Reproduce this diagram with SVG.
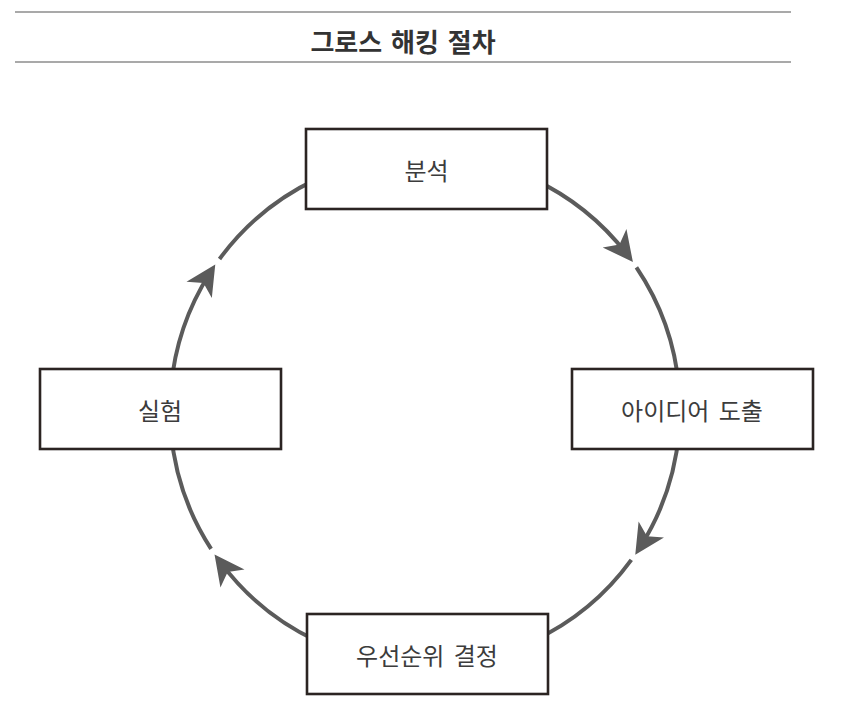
<svg xmlns="http://www.w3.org/2000/svg" width="848" height="720" viewBox="0 0 848 720">
  <defs>
    <style>
      .rule { stroke: #8c8c8c; stroke-width: 1.6; fill: none; }
      .title { font-family: "Noto Sans CJK KR", "Noto Sans", sans-serif; font-size: 26px; font-weight: 700; fill: #333333; word-spacing: 3px; }
      .box { fill: #ffffff; stroke: #2b2422; stroke-width: 2.6; }
      .label { font-family: "Noto Sans CJK KR", "Noto Sans", sans-serif; font-size: 24px; fill: #3c3c3c; word-spacing: 4px; }
      .arc { fill: none; stroke: #5b5b5b; stroke-width: 4; }
    </style>
    <marker id="ah" viewBox="-22 -16 34 32" refX="0" refY="0" markerWidth="34" markerHeight="32" markerUnits="userSpaceOnUse" orient="auto">
      <path d="M10,0 L-20,-15 L-12,0 L-20,15 Z" fill="#5b5b5b"/>
    </marker>
  </defs>
  <rect width="848" height="720" fill="#ffffff"/>

  <g id="header">
    <line class="rule" x1="15" y1="12" x2="791" y2="12"/>
    <line class="rule" x1="15" y1="62" x2="791" y2="62"/>
    <text class="title" x="403" y="40" text-anchor="middle" dominant-baseline="central">그로스 해킹 절차</text>
  </g>

  <g id="connectors">
    <path class="arc" d="M532.8,178.9 A255,255 0 0 1 626.8,254.1" marker-end="url(#ah)"/>
    <path class="arc" d="M636.4,267.4 A255,255 0 0 1 679.0,387.8"/>
    <path class="arc" d="M679.0,432.2 A255,255 0 0 1 640.6,546.3" marker-end="url(#ah)"/>
    <path class="arc" d="M631.3,559.9 A255,255 0 0 1 532.8,641.1"/>
    <path class="arc" d="M317.2,641.1 A255,255 0 0 1 220.5,562.4" marker-end="url(#ah)"/>
    <path class="arc" d="M211.1,548.9 A255,255 0 0 1 171.0,432.2"/>
    <path class="arc" d="M171.0,387.8 A255,255 0 0 1 209.9,273.0" marker-end="url(#ah)"/>
    <path class="arc" d="M219.5,259.0 A255,255 0 0 1 317.2,178.9"/>
  </g>

  <g id="node-analysis">
    <rect class="box" x="306" y="129" width="241" height="80"/>
    <text class="label" x="426.5" y="169" text-anchor="middle" dominant-baseline="central">분석</text>
  </g>
  <g id="node-ideation">
    <rect class="box" x="572" y="369" width="241" height="80"/>
    <text class="label" x="692" y="409" text-anchor="middle" dominant-baseline="central">아이디어 도출</text>
  </g>
  <g id="node-prioritize">
    <rect class="box" x="307" y="614" width="241" height="80"/>
    <text class="label" x="427" y="654" text-anchor="middle" dominant-baseline="central">우선순위 결정</text>
  </g>
  <g id="node-experiment">
    <rect class="box" x="40" y="369" width="241" height="80"/>
    <text class="label" x="160" y="409" text-anchor="middle" dominant-baseline="central">실험</text>
  </g>
</svg>
